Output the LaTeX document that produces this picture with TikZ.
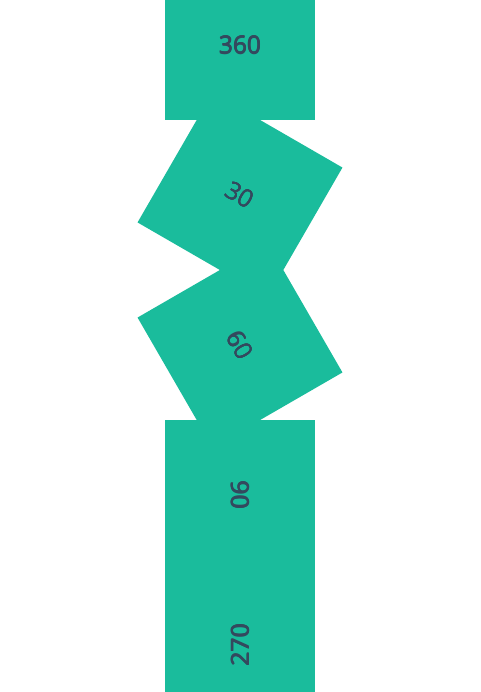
\documentclass[tikz,border=0pt]{standalone}
\usepackage{fontspec}
\setmainfont{Open Sans}
\definecolor{teal}{HTML}{1ABC9C}
\definecolor{slate}{HTML}{34495E}
\newcommand\heavytext[1]{\makebox[0pt][l]{\hspace{0.7pt}#1}\makebox[0pt][l]{\hspace{0.35pt}\raisebox{0.35pt}{#1}}\makebox[0pt][l]{\hspace{0.35pt}\raisebox{-0.35pt}{#1}}#1\hspace{0.7pt}}
\begin{document}
\begin{tikzpicture}[x=1pt,y=-1pt,
  sq/.style={fill=teal,draw=none,minimum width=150pt,minimum height=150pt,inner sep=0pt,
    text=slate,font=\fontsize{24.5}{24.5}\selectfont,anchor=center}]
\useasboundingbox[fill=white] (0,0) rectangle (480,692);
\begin{scope}
\clip (0,0) rectangle (480,692);
\node[sq,rotate=-360] (a) at (240,45) {\raisebox{-1pt}{\heavytext{360}}};
\node[sq,rotate=-30] (b) at (240,195) {\raisebox{-1pt}{\heavytext{30}}};
\node[sq,rotate=-60] (c) at (240,345) {\raisebox{-1pt}{\heavytext{60}}};
\node[sq,rotate=-90] (d) at (240,495) {\raisebox{-1pt}{\heavytext{90}}};
\node[sq,rotate=-270] (e) at (240,645) {\raisebox{-1pt}{\heavytext{270}}};
\end{scope}
\end{tikzpicture}
\end{document}
